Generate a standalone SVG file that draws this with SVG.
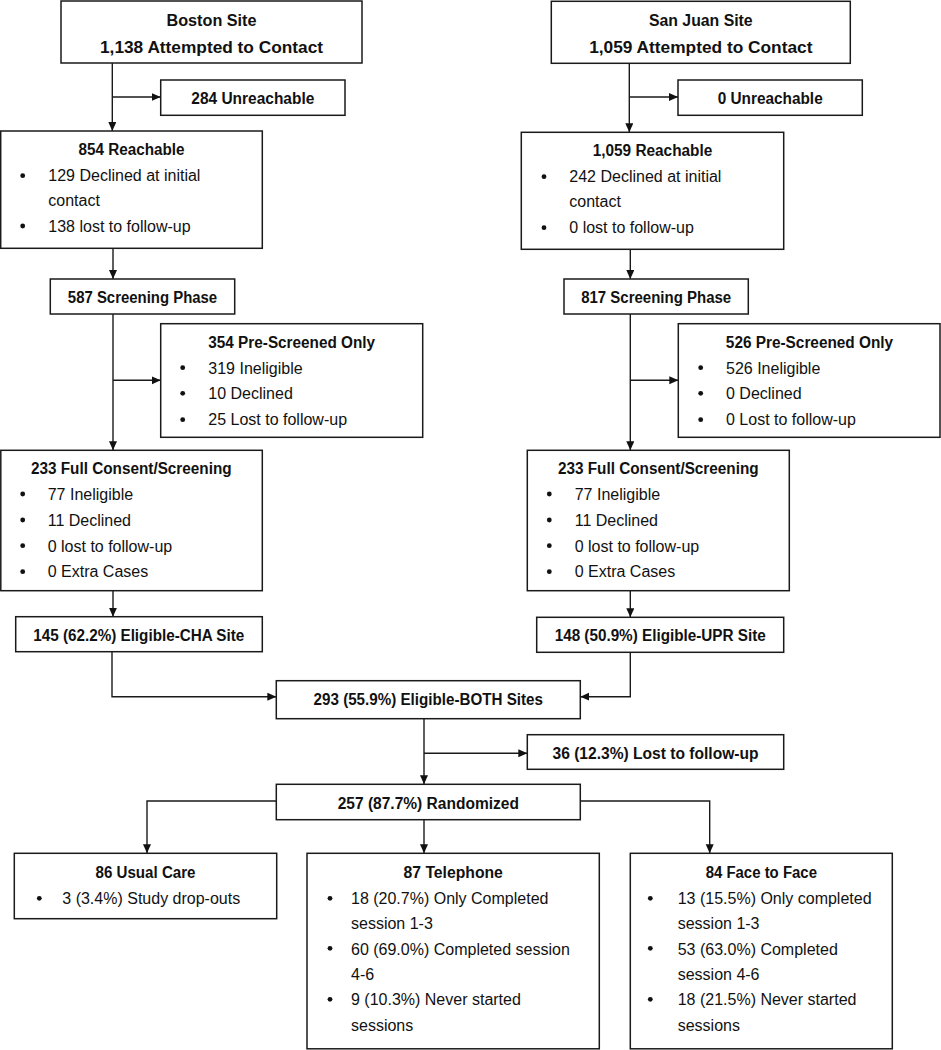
<svg xmlns="http://www.w3.org/2000/svg" width="941" height="1050" viewBox="0 0 941 1050">
<style>
.box{fill:#fff;stroke:#1a1a1a;stroke-width:1.5}
.h{font-family:"Liberation Sans",Arial,sans-serif;font-weight:bold;font-size:16px;text-anchor:middle;fill:#111}
.t{font-family:"Liberation Sans",Arial,sans-serif;font-size:16px;fill:#111}
.d{fill:#111}
.c{fill:none;stroke:#1a1a1a;stroke-width:1.4}
</style>
<defs>
<marker id="arr" markerUnits="userSpaceOnUse" markerWidth="10" markerHeight="10" refX="9" refY="4" orient="auto">
<path d="M0,0 L9,4 L0,8 Z" fill="#111"/>
</marker>
</defs>
<rect width="941" height="1050" fill="#fff"/>
<g id="connectors">
<path class="c" d="M112.3,63 V131" marker-end="url(#arr)"/>
<path class="c" d="M112.3,97 H160.7" marker-end="url(#arr)"/>
<path class="c" d="M629.3,63.3 V132.3" marker-end="url(#arr)"/>
<path class="c" d="M629.3,97 H678" marker-end="url(#arr)"/>
<path class="c" d="M113,248.3 V279" marker-end="url(#arr)"/>
<path class="c" d="M630.3,249.3 V279" marker-end="url(#arr)"/>
<path class="c" d="M113,314 V450.3" marker-end="url(#arr)"/>
<path class="c" d="M113,380.3 H160.7" marker-end="url(#arr)"/>
<path class="c" d="M630.3,314 V450.3" marker-end="url(#arr)"/>
<path class="c" d="M630.3,380.3 H678.3" marker-end="url(#arr)"/>
<path class="c" d="M113,590.7 V616.7" marker-end="url(#arr)"/>
<path class="c" d="M630.3,590.7 V617.3" marker-end="url(#arr)"/>
<path class="c" d="M112,652 V696.7 H276.3" marker-end="url(#arr)"/>
<path class="c" d="M630.3,652.3 V696.7 H580.3" marker-end="url(#arr)"/>
<path class="c" d="M424,718.7 V784.3" marker-end="url(#arr)"/>
<path class="c" d="M424,753.3 H527.3" marker-end="url(#arr)"/>
<path class="c" d="M276.3,801 H147 V853.3" marker-end="url(#arr)"/>
<path class="c" d="M424,819.7 V853.3" marker-end="url(#arr)"/>
<path class="c" d="M580.3,801 H709.7 V853.3" marker-end="url(#arr)"/>
</g>
<g id="boston">
<rect class="box" x="61" y="1" width="301" height="62"/>
<text class="h" x="211.5" y="26" textLength="90" lengthAdjust="spacingAndGlyphs">Boston Site</text>
<text class="h" x="211.5" y="53" textLength="223" lengthAdjust="spacingAndGlyphs">1,138 Attempted to Contact</text>
</g>
<g id="sanjuan">
<rect class="box" x="551.3" y="1.3" width="299" height="62"/>
<text class="h" x="700.8" y="26" textLength="103.7" lengthAdjust="spacingAndGlyphs">San Juan Site</text>
<text class="h" x="700.8" y="53" textLength="223.3" lengthAdjust="spacingAndGlyphs">1,059 Attempted to Contact</text>
</g>
<g id="unreach1">
<rect class="box" x="160.7" y="80" width="184.3" height="35.3"/>
<text class="h" x="252.8" y="104" textLength="123" lengthAdjust="spacingAndGlyphs">284 Unreachable</text>
</g>
<g id="unreach2">
<rect class="box" x="678" y="80" width="184.3" height="35.3"/>
<text class="h" x="770.2" y="104" textLength="105" lengthAdjust="spacingAndGlyphs">0 Unreachable</text>
</g>
<g id="reach1">
<rect class="box" x="0.7" y="131" width="261.6" height="117.3"/>
<text class="h" x="131.5" y="155" textLength="106" lengthAdjust="spacingAndGlyphs">854 Reachable</text>
<circle class="d" cx="22.7" cy="175.7" r="2.4"/>
<text class="t" x="48.3" y="181">129 Declined at initial</text>
<text class="t" x="48.3" y="206">contact</text>
<circle class="d" cx="22.7" cy="226" r="2.4"/>
<text class="t" x="48.3" y="231.5">138 lost to follow-up</text>
</g>
<g id="reach2">
<rect class="box" x="521.3" y="132.3" width="262.4" height="117"/>
<text class="h" x="652.5" y="156" textLength="119.7" lengthAdjust="spacingAndGlyphs">1,059 Reachable</text>
<circle class="d" cx="544" cy="176.7" r="2.4"/>
<text class="t" x="569.3" y="182">242 Declined at initial</text>
<text class="t" x="569.3" y="207">contact</text>
<circle class="d" cx="544" cy="227.7" r="2.4"/>
<text class="t" x="569.3" y="233">0 lost to follow-up</text>
</g>
<g id="screen1">
<rect class="box" x="50.3" y="279" width="184.4" height="35"/>
<text class="h" x="142.5" y="302.5" textLength="149.3" lengthAdjust="spacingAndGlyphs">587 Screening Phase</text>
</g>
<g id="screen2">
<rect class="box" x="564" y="279" width="184.3" height="35"/>
<text class="h" x="656.2" y="302.5" textLength="150" lengthAdjust="spacingAndGlyphs">817 Screening Phase</text>
</g>
<g id="pre1">
<rect class="box" x="160.7" y="323.7" width="262" height="113.6"/>
<text class="h" x="291.7" y="347.7" textLength="166.7" lengthAdjust="spacingAndGlyphs">354 Pre-Screened Only</text>
<circle class="d" cx="182.7" cy="367.7" r="2.4"/>
<text class="t" x="208.3" y="373.7">319 Ineligible</text>
<circle class="d" cx="182.7" cy="393.3" r="2.4"/>
<text class="t" x="208.3" y="399.3">10 Declined</text>
<circle class="d" cx="182.7" cy="419.7" r="2.4"/>
<text class="t" x="208.3" y="425.3">25 Lost to follow-up</text>
</g>
<g id="pre2">
<rect class="box" x="678.3" y="323.7" width="261.7" height="113.6"/>
<text class="h" x="809.5" y="347.7" textLength="167.3" lengthAdjust="spacingAndGlyphs">526 Pre-Screened Only</text>
<circle class="d" cx="700.7" cy="367.7" r="2.4"/>
<text class="t" x="726" y="373.7">526 Ineligible</text>
<circle class="d" cx="700.7" cy="393.3" r="2.4"/>
<text class="t" x="726" y="399.3">0 Declined</text>
<circle class="d" cx="700.7" cy="419.7" r="2.4"/>
<text class="t" x="726" y="425.3">0 Lost to follow-up</text>
</g>
<g id="full1">
<rect class="box" x="0.8" y="450.3" width="261.5" height="140.4"/>
<text class="h" x="131.3" y="474.3" textLength="200.7" lengthAdjust="spacingAndGlyphs">233 Full Consent/Screening</text>
<circle class="d" cx="22.7" cy="494" r="2.4"/>
<text class="t" x="47.7" y="500">77 Ineligible</text>
<circle class="d" cx="22.7" cy="520" r="2.4"/>
<text class="t" x="47.7" y="526">11 Declined</text>
<circle class="d" cx="22.7" cy="545.7" r="2.4"/>
<text class="t" x="47.7" y="551.7">0 lost to follow-up</text>
<circle class="d" cx="22.7" cy="571.7" r="2.4"/>
<text class="t" x="47.7" y="577.3">0 Extra Cases</text>
</g>
<g id="full2">
<rect class="box" x="527.3" y="450.3" width="262" height="140.4"/>
<text class="h" x="658.3" y="474.3" textLength="200.7" lengthAdjust="spacingAndGlyphs">233 Full Consent/Screening</text>
<circle class="d" cx="549.3" cy="494" r="2.4"/>
<text class="t" x="574.7" y="500">77 Ineligible</text>
<circle class="d" cx="549.3" cy="520" r="2.4"/>
<text class="t" x="574.7" y="526">11 Declined</text>
<circle class="d" cx="549.3" cy="545.7" r="2.4"/>
<text class="t" x="574.7" y="551.7">0 lost to follow-up</text>
<circle class="d" cx="549.3" cy="571.7" r="2.4"/>
<text class="t" x="574.7" y="577.3">0 Extra Cases</text>
</g>
<g id="elig1">
<rect class="box" x="15.7" y="616.7" width="246.6" height="35"/>
<text class="h" x="138.8" y="640.5" textLength="211" lengthAdjust="spacingAndGlyphs">145 (62.2%) Eligible-CHA Site</text>
</g>
<g id="elig2">
<rect class="box" x="536.7" y="617.3" width="247" height="35"/>
<text class="h" x="660.2" y="641" textLength="211" lengthAdjust="spacingAndGlyphs">148 (50.9%) Eligible-UPR Site</text>
</g>
<g id="both">
<rect class="box" x="276.3" y="680.7" width="304" height="38"/>
<text class="h" x="428.3" y="705" textLength="229.4" lengthAdjust="spacingAndGlyphs">293 (55.9%) Eligible-BOTH Sites</text>
</g>
<g id="lost">
<rect class="box" x="527.3" y="734.7" width="256.4" height="34.6"/>
<text class="h" x="655.5" y="759" textLength="206" lengthAdjust="spacingAndGlyphs">36 (12.3%) Lost to follow-up</text>
</g>
<g id="rand">
<rect class="box" x="276.3" y="784.3" width="304" height="35.4"/>
<text class="h" x="428.3" y="808.5" textLength="181.3" lengthAdjust="spacingAndGlyphs">257 (87.7%) Randomized</text>
</g>
<g id="usual">
<rect class="box" x="14.3" y="853.3" width="262.4" height="65.4"/>
<text class="h" x="145.5" y="878.3" textLength="100" lengthAdjust="spacingAndGlyphs">86 Usual Care</text>
<circle class="d" cx="39.3" cy="898.3" r="2.4"/>
<text class="t" x="62.3" y="904">3 (3.4%) Study drop-outs</text>
</g>
<g id="tel">
<rect class="box" x="307" y="853.3" width="292.3" height="195.5"/>
<text class="h" x="453.2" y="878.3" textLength="99.3" lengthAdjust="spacingAndGlyphs">87 Telephone</text>
<circle class="d" cx="330" cy="898.3" r="2.4"/>
<text class="t" x="351" y="904">18 (20.7%) Only Completed</text>
<text class="t" x="351" y="929.3">session 1-3</text>
<circle class="d" cx="330" cy="948.3" r="2.4"/>
<text class="t" x="351" y="954.6">60 (69.0%) Completed session</text>
<text class="t" x="351" y="980">4-6</text>
<circle class="d" cx="330" cy="999.3" r="2.4"/>
<text class="t" x="351" y="1005.3">9 (10.3%) Never started</text>
<text class="t" x="351" y="1030.6">sessions</text>
</g>
<g id="f2f">
<rect class="box" x="630.3" y="853.3" width="262" height="195.5"/>
<text class="h" x="761.3" y="878.3" textLength="111.3" lengthAdjust="spacingAndGlyphs">84 Face to Face</text>
<circle class="d" cx="650.3" cy="898.3" r="2.4"/>
<text class="t" x="677.7" y="904">13 (15.5%) Only completed</text>
<text class="t" x="677.7" y="929.3">session 1-3</text>
<circle class="d" cx="650.3" cy="948.3" r="2.4"/>
<text class="t" x="677.7" y="954.6">53 (63.0%) Completed</text>
<text class="t" x="677.7" y="980">session 4-6</text>
<circle class="d" cx="650.3" cy="999.3" r="2.4"/>
<text class="t" x="677.7" y="1005.3">18 (21.5%) Never started</text>
<text class="t" x="677.7" y="1030.6">sessions</text>
</g>
</svg>
